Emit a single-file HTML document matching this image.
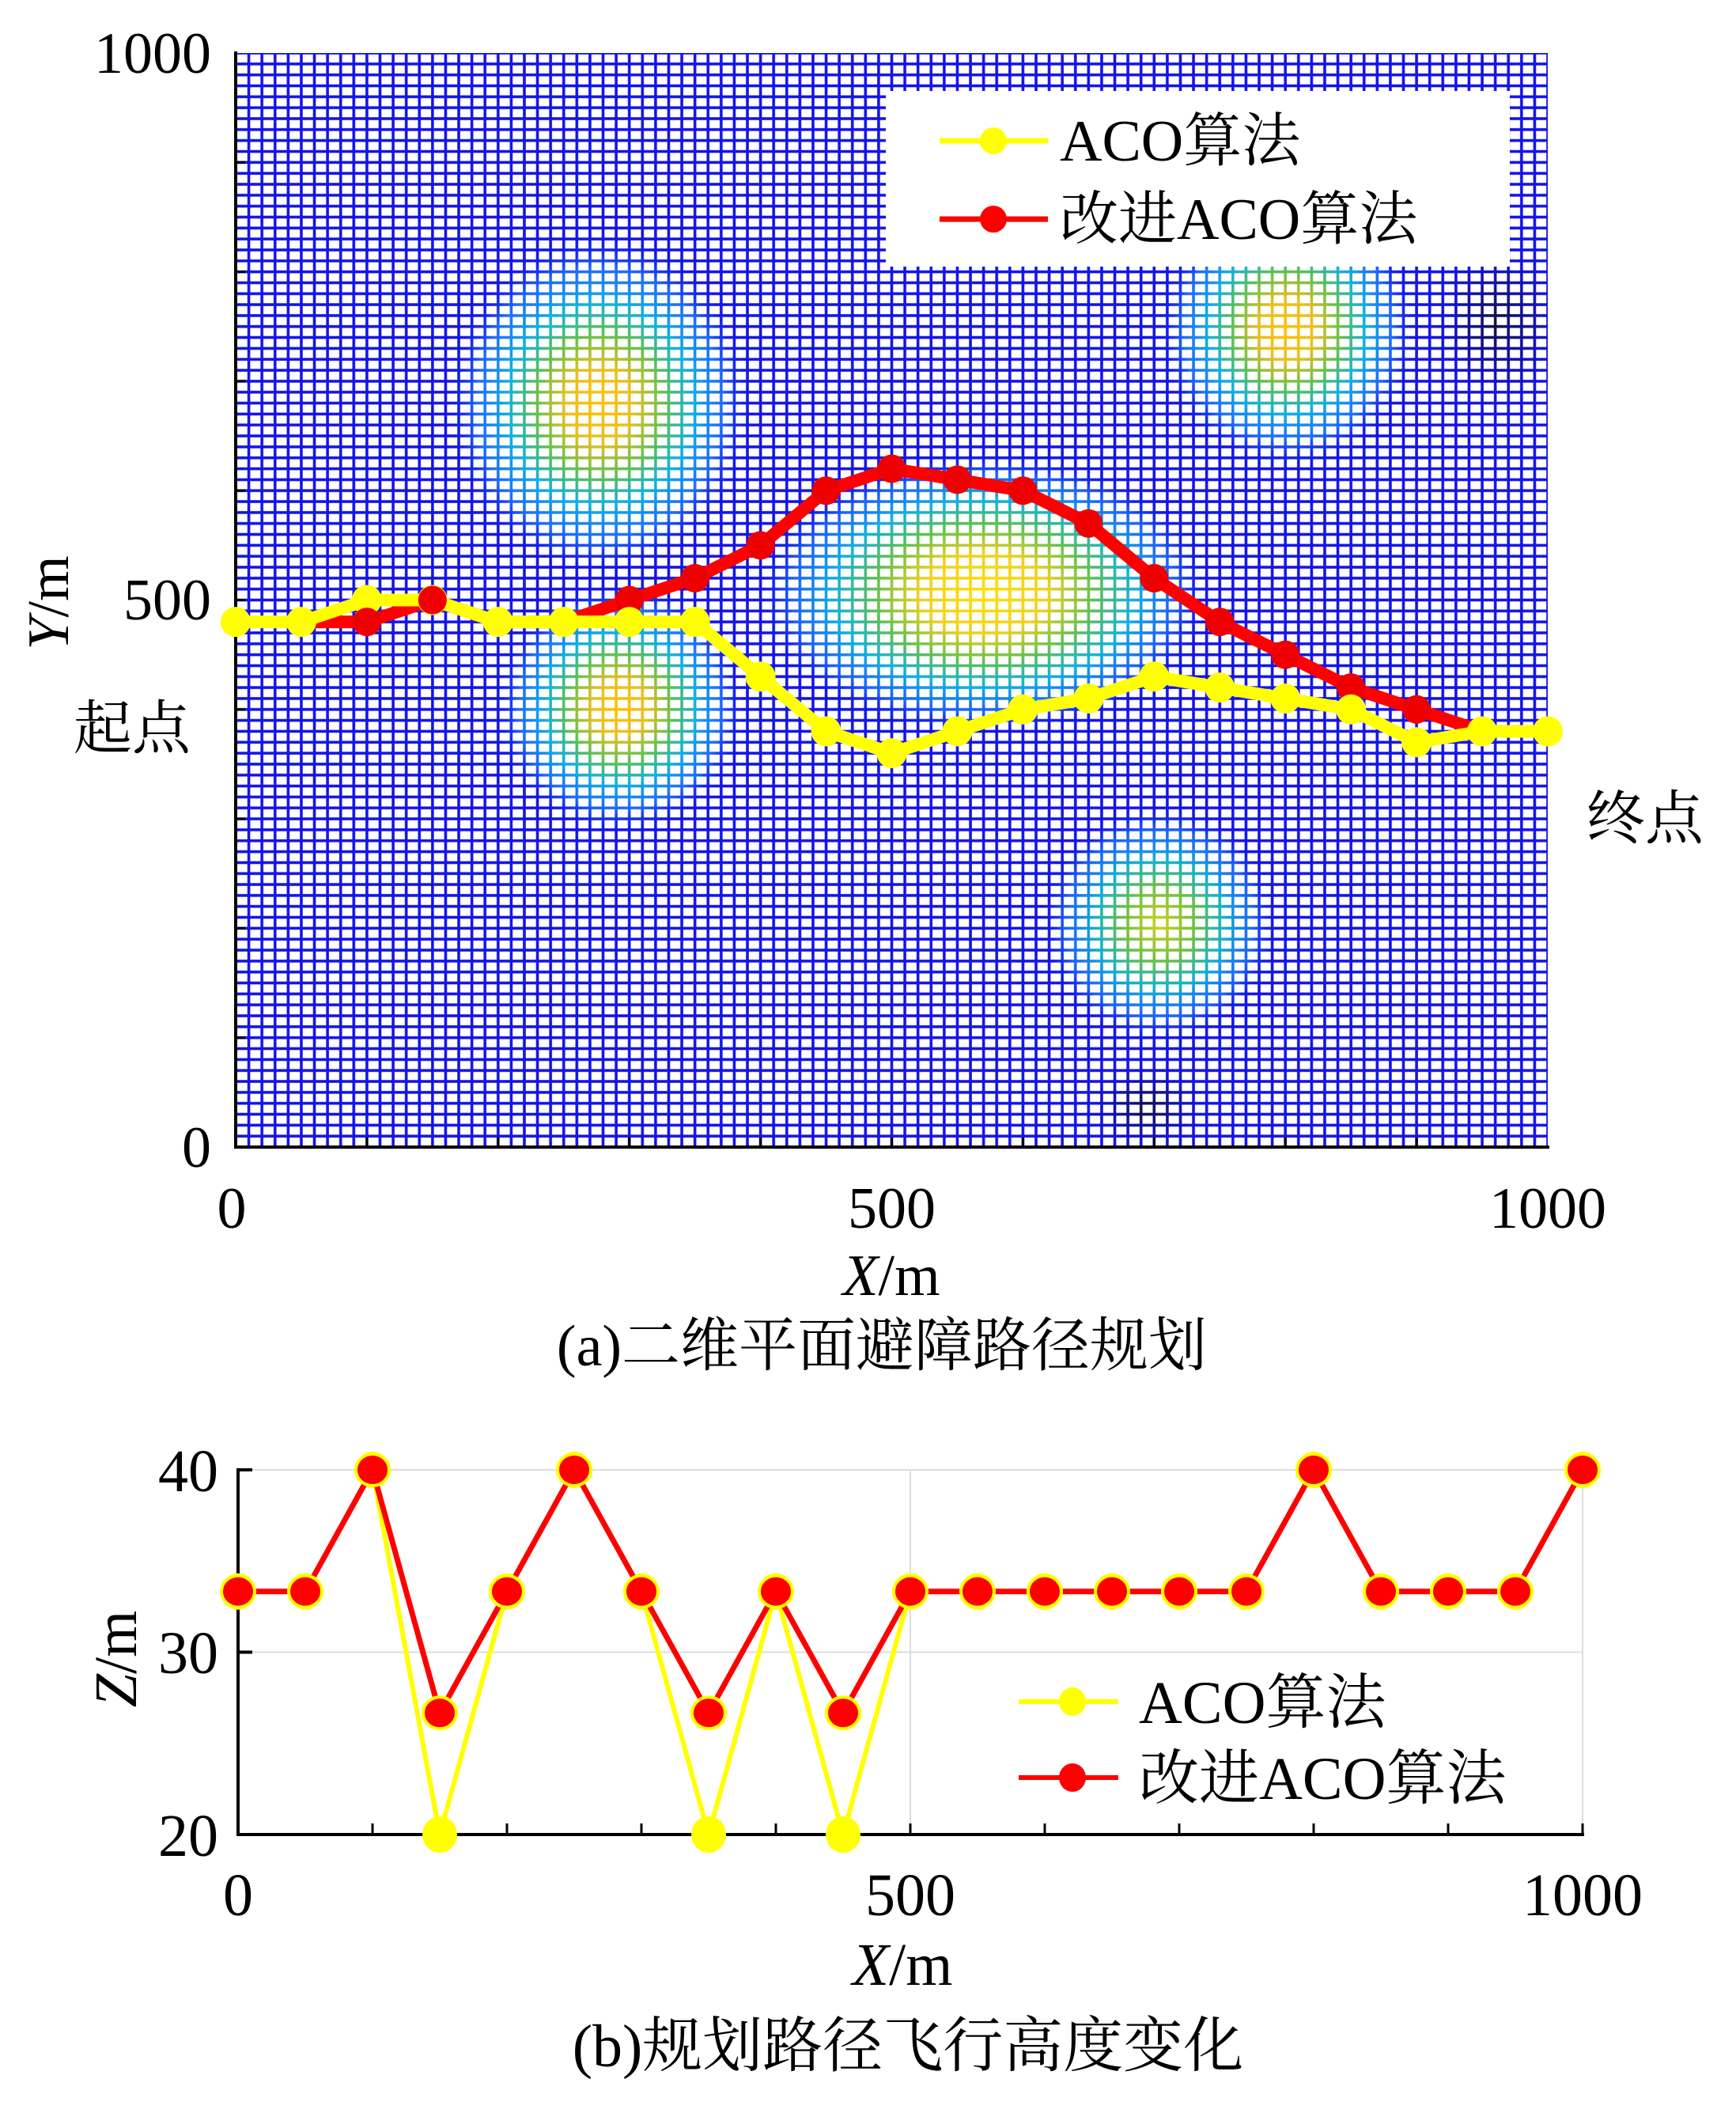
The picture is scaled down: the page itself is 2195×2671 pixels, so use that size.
<!DOCTYPE html>
<html><head><meta charset="utf-8">
<style>
html,body{margin:0;padding:0;background:#fff;}
svg{display:block;}
text{font-family:"Liberation Serif","Noto Serif CJK SC",serif;fill:#000;}
</style></head>
<body>
<svg id="s" width="2195" height="2671" viewBox="0 0 2195 2671" xmlns="http://www.w3.org/2000/svg">
<defs>
<clipPath id="ax"><rect x="298" y="67" width="1659" height="1383"/></clipPath>
<radialGradient id="g1">
<stop offset="0" stop-color="#ffc000"/>
<stop offset="0.22" stop-color="#e8c020"/>
<stop offset="0.42" stop-color="#60c050"/>
<stop offset="0.6" stop-color="#10b0e0"/>
<stop offset="0.8" stop-color="#2080ff" stop-opacity="0.8"/>
<stop offset="1" stop-color="#1010e0" stop-opacity="0"/>
</radialGradient>
<radialGradient id="g2">
<stop offset="0" stop-color="#ffe000"/>
<stop offset="0.28" stop-color="#f0d020"/>
<stop offset="0.48" stop-color="#60c050"/>
<stop offset="0.66" stop-color="#10b0e0"/>
<stop offset="0.84" stop-color="#2080ff" stop-opacity="0.7"/>
<stop offset="1" stop-color="#1010e0" stop-opacity="0"/>
</radialGradient>
<radialGradient id="g3">
<stop offset="0" stop-color="#d0d020"/>
<stop offset="0.3" stop-color="#70c040"/>
<stop offset="0.55" stop-color="#10b0d0"/>
<stop offset="0.8" stop-color="#2080ff" stop-opacity="0.7"/>
<stop offset="1" stop-color="#1010e0" stop-opacity="0"/>
</radialGradient>
<radialGradient id="gd">
<stop offset="0" stop-color="#101040"/>
<stop offset="0.5" stop-color="#101080" stop-opacity="0.6"/>
<stop offset="1" stop-color="#1010e0" stop-opacity="0"/>
</radialGradient>
<pattern id="cells" patternUnits="userSpaceOnUse" x="298" y="67" width="16.59" height="13.83">
<rect x="1.8" y="1.8" width="12.99" height="10.23" fill="#fff"/>
</pattern>
</defs>
<g id="top"></g>
<g id="bot"></g>
</svg>
<script>
const NS="http://www.w3.org/2000/svg";
function el(p,t,a,txt){const e=document.createElementNS(NS,t);for(const k in a)e.setAttribute(k,a[k]);if(txt!==undefined)e.textContent=txt;p.appendChild(e);return e;}
const T=document.getElementById('top'),B=document.getElementById('bot');
const X0=298,X1=1957,Y0=1450,Y1=67;
const px=x=>X0+x*(X1-X0)/1000, py=y=>Y0-y*(Y0-Y1)/1000;
const G=el(T,'g',{'clip-path':'url(#ax)'});
el(G,'rect',{x:X0,y:Y1,width:X1-X0,height:Y0-Y1,fill:'#1414e6'});
const blobs=[[758,511,195,215,'g1'],[1244,750,290,180,'g2'],[784,895,160,160,'g1'],[1628,417,165,175,'g1'],[1466,1168,150,150,'g3'],[1892,409,90,110,'gd'],[1449,1400,80,60,'gd']];
for(const b of blobs)el(G,'ellipse',{cx:b[0],cy:b[1],rx:b[2],ry:b[3],fill:'url(#'+b[4]+')'});
el(G,'rect',{x:X0,y:Y1,width:X1-X0,height:Y0-Y1,fill:'url(#cells)'});
el(T,'line',{x1:X0,y1:Y1-2,x2:X0,y2:Y0+2,stroke:'#000','stroke-width':4});
el(T,'line',{x1:X0-2,y1:Y0,x2:X1+2,y2:Y0,stroke:'#000','stroke-width':4});
for(let v=100;v<1000;v+=100){el(T,'line',{x1:X0,y1:py(v),x2:X0+12,y2:py(v),stroke:'#000','stroke-width':3});el(T,'line',{x1:px(v),y1:Y0,x2:px(v),y2:Y0-12,stroke:'#000','stroke-width':3});}
const red=[[50,480],[100,480],[150,500],[200,480],[250,480],[300,500],[350,520],[400,550],[450,600],[500,620],[550,610],[600,600],[650,570],[700,520],[750,480],[800,450],[850,420],[900,400],[950,380]];
const yel=[[0,480],[50,480],[100,500],[150,500],[200,480],[250,480],[300,480],[350,480],[400,430],[450,380],[500,360],[550,380],[600,400],[650,410],[700,430],[750,420],[800,410],[850,400],[900,370],[950,380],[1000,380]];
function series(p,pts,c,fx,fy,w){el(p,'polyline',{points:pts.map(q=>fx(q[0])+','+fy(q[1])).join(' '),fill:'none',stroke:c,'stroke-width':w,'stroke-linejoin':'round'});}
series(T,red,'#f00',px,py,16);
for(const q of red)el(T,'circle',{cx:px(q[0]),cy:py(q[1]),r:18,fill:'#e00'});
series(T,yel,'#ff0',px,py,16);
for(const q of yel)el(T,'circle',{cx:px(q[0]),cy:py(q[1]),r:19,fill:'#ff0'});
el(T,'circle',{cx:px(150),cy:py(500),r:18,fill:'#e00'});
el(T,'circle',{cx:px(100),cy:py(480),r:18,fill:'#e00'});
// legend
el(T,'rect',{x:1120,y:115,width:789,height:222,fill:'#fff'});
el(T,'line',{x1:1188,y1:178,x2:1325,y2:178,stroke:'#ff0','stroke-width':7});
el(T,'circle',{cx:1256,cy:178,r:17,fill:'#ff0'});
el(T,'line',{x1:1188,y1:277,x2:1325,y2:277,stroke:'#f00','stroke-width':7});
el(T,'circle',{cx:1256,cy:277,r:17,fill:'#f00'});
el(T,'text',{x:1340,y:203,'font-size':74},'ACO算法');
el(T,'text',{x:1340,y:302,'font-size':74},'改进ACO算法');
const fs=74;
el(T,'text',{x:267,y:92,'font-size':fs,'text-anchor':'end'},'1000');
el(T,'text',{x:267,y:783,'font-size':fs,'text-anchor':'end'},'500');
el(T,'text',{x:267,y:1475,'font-size':fs,'text-anchor':'end'},'0');
el(T,'text',{x:px(0)-5,y:1552,'font-size':fs,'text-anchor':'middle'},'0');
el(T,'text',{x:px(500),y:1552,'font-size':fs,'text-anchor':'middle'},'500');
el(T,'text',{x:px(1000),y:1552,'font-size':fs,'text-anchor':'middle'},'1000');
el(T,'text',{x:1127,y:1637,'font-size':fs,'text-anchor':'middle'},'').innerHTML='<tspan font-style="italic">X</tspan>/m';
el(T,'text',{x:1115,y:1726,'font-size':74,'text-anchor':'middle'},'(a)二维平面避障路径规划');
el(T,'text',{x:0,y:0,'font-size':fs,'text-anchor':'middle',transform:'translate(86,762) rotate(-90)'},'').innerHTML='<tspan font-style="italic">Y</tspan>/m';
el(T,'text',{x:167,y:946,'font-size':fs,'text-anchor':'middle'},'起点');
el(T,'text',{x:2080,y:1060,'font-size':fs,'text-anchor':'middle'},'终点');
// bottom plot
const bx=x=>301+x*1.7, by=z=>2319-(z-20)*23.05;
el(B,'line',{x1:bx(0),y1:by(30),x2:bx(1000),y2:by(30),stroke:'#ddd','stroke-width':2});
el(B,'line',{x1:bx(0),y1:by(40),x2:bx(1000),y2:by(40),stroke:'#ddd','stroke-width':2});
el(B,'line',{x1:bx(500),y1:by(40),x2:bx(500),y2:by(20),stroke:'#ddd','stroke-width':2});
el(B,'line',{x1:bx(1000),y1:by(40),x2:bx(1000),y2:by(20),stroke:'#ddd','stroke-width':2});
el(B,'line',{x1:bx(0),y1:by(40)-2,x2:bx(0),y2:by(20)+2,stroke:'#000','stroke-width':4});
el(B,'line',{x1:bx(0)-2,y1:by(20),x2:bx(1000)+2,y2:by(20),stroke:'#000','stroke-width':4});
for(const z of [30,40])el(B,'line',{x1:bx(0),y1:by(z),x2:bx(0)+18,y2:by(z),stroke:'#000','stroke-width':4});
for(let v=100;v<=1000;v+=100)el(B,'line',{x1:bx(v),y1:by(20),x2:bx(v),y2:by(20)-14,stroke:'#000','stroke-width':3});
const rz=[33.33,33.33,40,26.67,33.33,40,33.33,26.67,33.33,26.67,33.33,33.33,33.33,33.33,33.33,33.33,40,33.33,33.33,33.33,40];
const yz=rz.map((z,i)=>(i==3||i==7||i==9)?20:z);
const rp=rz.map((z,i)=>[i*50,z]), yp=yz.map((z,i)=>[i*50,z]);
series(B,yp,'#ff0',bx,by,6);
for(const q of yp)el(B,'ellipse',{cx:bx(q[0]),cy:by(q[1]),rx:22,ry:23,fill:'#ff0'});
series(B,rp,'#f00',bx,by,7);
for(const q of rp)el(B,'ellipse',{cx:bx(q[0]),cy:by(q[1]),rx:21,ry:20,fill:'#f00',stroke:'#ff0','stroke-width':4});
el(B,'line',{x1:1288,y1:2151,x2:1414,y2:2151,stroke:'#ff0','stroke-width':6});
el(B,'ellipse',{cx:1356,cy:2151,rx:17,ry:18,fill:'#ff0'});
el(B,'line',{x1:1288,y1:2247,x2:1414,y2:2247,stroke:'#f00','stroke-width':6});
el(B,'ellipse',{cx:1356,cy:2247,rx:17,ry:18,fill:'#f00'});
el(B,'text',{x:1440,y:2178,'font-size':76},'ACO算法');
el(B,'text',{x:1440,y:2274,'font-size':76},'改进ACO算法');
el(B,'text',{x:276,y:1885,'font-size':76,'text-anchor':'end'},'40');
el(B,'text',{x:276,y:2115,'font-size':76,'text-anchor':'end'},'30');
el(B,'text',{x:276,y:2346,'font-size':76,'text-anchor':'end'},'20');
el(B,'text',{x:bx(0),y:2421,'font-size':76,'text-anchor':'middle'},'0');
el(B,'text',{x:bx(500),y:2421,'font-size':76,'text-anchor':'middle'},'500');
el(B,'text',{x:bx(1000),y:2421,'font-size':76,'text-anchor':'middle'},'1000');
el(B,'text',{x:1141,y:2509,'font-size':76,'text-anchor':'middle'},'').innerHTML='<tspan font-style="italic">X</tspan>/m';
el(B,'text',{x:1148,y:2612,'font-size':76,'text-anchor':'middle'},'(b)规划路径飞行高度变化');
el(B,'text',{x:0,y:0,'font-size':76,'text-anchor':'middle',transform:'translate(172,2097) rotate(-90)'},'').innerHTML='<tspan font-style="italic">Z</tspan>/m';
</script>
</body></html>
